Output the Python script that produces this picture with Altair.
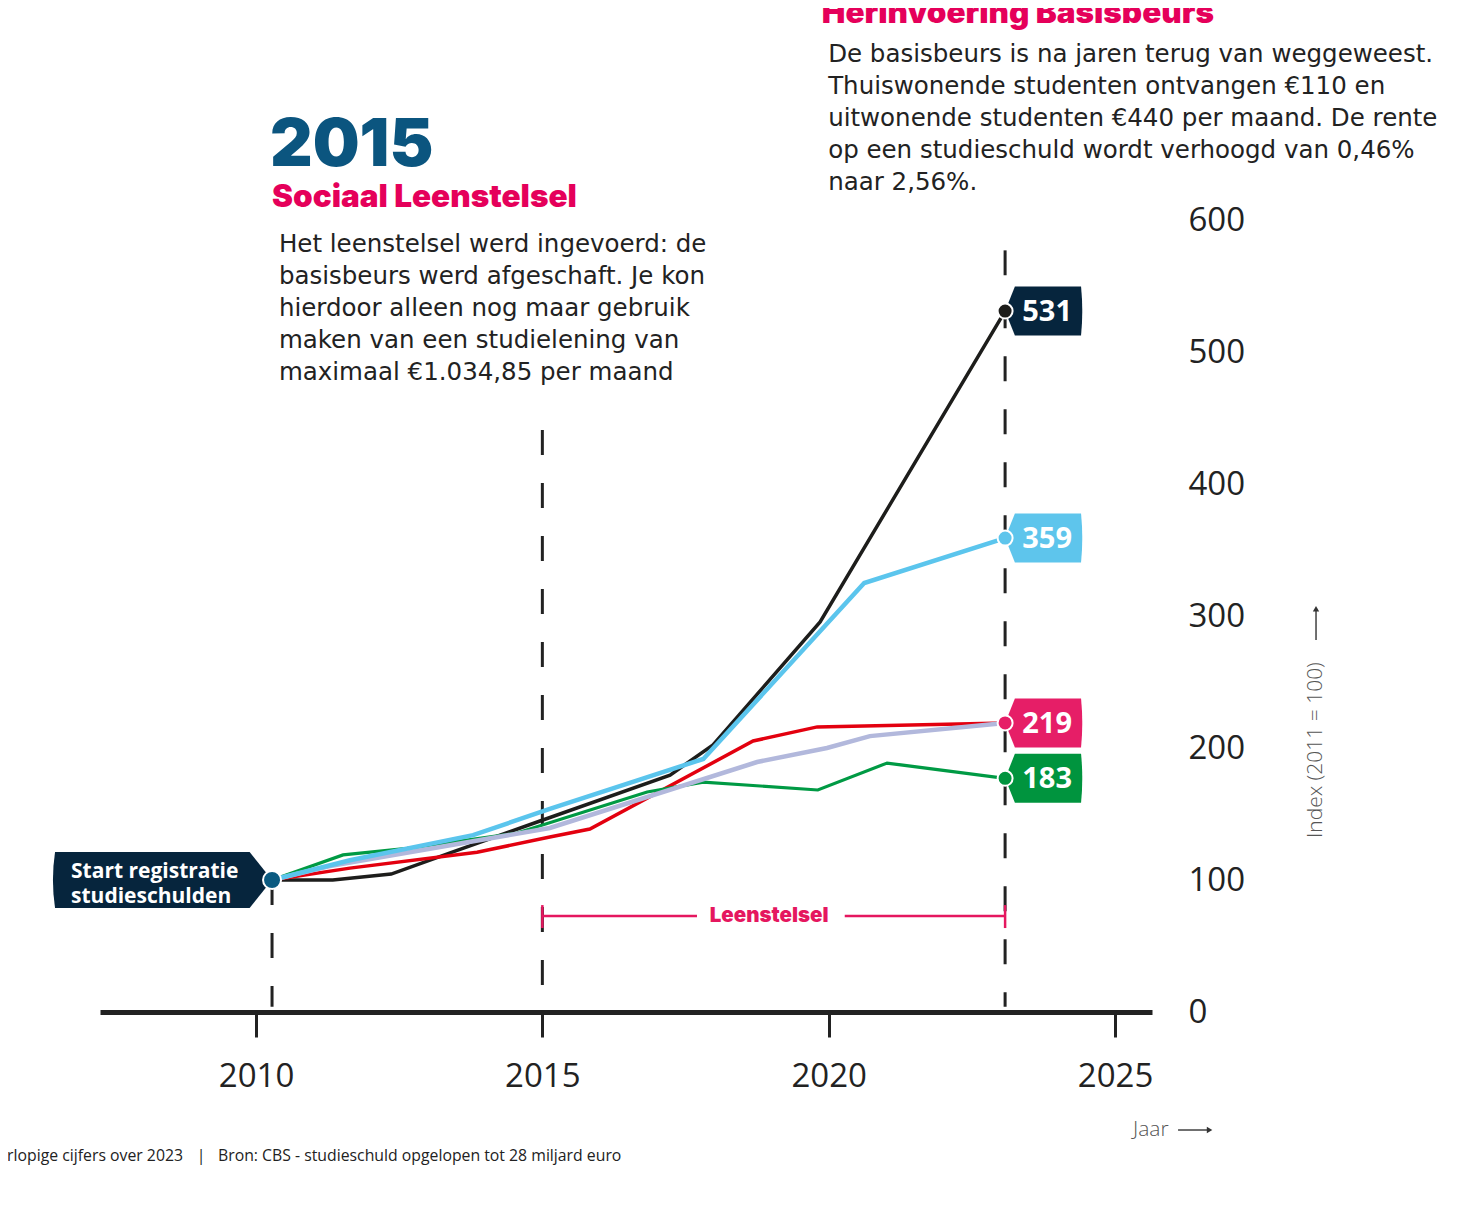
import altair as alt
import pandas as pd

# ---------------- data ----------------
zwart_jaar = [2010.28, 2011.34, 2012.36, 2013.39, 2014.96, 2017.23, 2017.98, 2019.85, 2023.08]
zwart_index = [100, 100, 104.5, 120.5, 144.7, 179.5, 202.3, 295.5, 531]

blauw_jaar = [2010.28, 2011.64, 2013.79, 2015.13, 2017.81, 2020.62, 2023.08]
blauw_index = [100, 115, 134, 153.8, 191.7, 325, 359]

rood_jaar = [2010.28, 2011.64, 2013.86, 2015.13, 2015.83, 2018.68, 2019.80, 2023.08]
rood_index = [100, 109, 121, 132.6, 138.6, 205.3, 216, 219]

groen_jaar = [2010.28, 2011.52, 2012.64, 2014.56, 2016.83, 2017.81, 2019.81, 2021.02, 2023.08]
groen_index = [100, 119, 124, 135.6, 166.7, 174.2, 168.2, 188.6, 177]

lila_jaar = [2010.28, 2011.29, 2015.13, 2018.75, 2019.97, 2020.72, 2023.08]
lila_index = [100, 110.6, 139.4, 189.4, 200, 209, 219]

eind_jaar = 2023.08
eind_waarden = [531, 359, 219, 177]          # positions of the end dots
eind_labels = ["531", "359", "219", "183"]   # printed values
eind_tagkleur = ["#06253d", "#5ec5ec", "#e61e67", "#00943e"]
eind_dotkleur = ["#1d1d1b", "#5ec5ec", "#e61e67", "#00943e"]

start_jaar = 2010.28
start_index = 100

x_ticks = [2010, 2015, 2020, 2025]
y_ticks = [0, 100, 200, 300, 400, 500, 600]

KOP = "Inter"
TEKST = "DejaVu Sans"

# ---------------- scales / encodings ----------------
xs = alt.Scale(domain=[2007.276, 2025.645], nice=False, zero=False)
ys = alt.Scale(domain=[0, 600], nice=False, zero=False)

X = alt.X("jaar:Q", scale=xs, title=None,
          axis=alt.Axis(values=x_ticks, format="d", grid=False, labelFontSize=33,
                        labelFont="Open Sans", labelColor="#222222", tickSize=25,
                        tickWidth=3, tickColor="#222222", domainWidth=5,
                        domainColor="#222222", labelPadding=23, labelFlush=False,
                        labelOverlap=False))
Y = alt.Y("index:Q", scale=ys, title=None,
          axis=alt.Axis(orient="right", values=y_ticks, grid=False, ticks=False,
                        tickSize=0, domain=False, labelFontSize=33,
                        labelFont="Open Sans", labelColor="#222222", labelAlign="left",
                        labelPadding=36, labelBaseline="middle", labelFlush=False,
                        labelOverlap=False))

layers = []

# dashed vertical guides
vl = pd.DataFrame({"jaar": [start_jaar, 2015.0, eind_jaar],
                   "index": [100, 441, 577], "index2": [4, 4, 4]})
layers.append(alt.Chart(vl).mark_rule(color="#222222", strokeWidth=3,
                                      strokeDash=[25, 28]).encode(
    x=X, y=Y, y2=alt.Y2("index2")))

# Leenstelsel bracket
br = pd.DataFrame({"jaar": [2015.0, 2020.28], "jaar2": [2017.70, eind_jaar],
                   "index": [72.7, 72.7]})
layers.append(alt.Chart(br).mark_rule(color="#e5175f", strokeWidth=2.5).encode(
    x=X, x2=alt.X2("jaar2"), y=Y))
caps = pd.DataFrame({"jaar": [2015.0, eind_jaar], "index": [81, 81], "index2": [63.6, 63.6]})
layers.append(alt.Chart(caps).mark_rule(color="#e5175f", strokeWidth=2.5).encode(
    x=X, y=Y, y2=alt.Y2("index2")))
layers.append(alt.Chart(pd.DataFrame({"jaar": [2018.96], "index": [72.7],
                                      "tekst": ["Leenstelsel"]})).mark_text(
    align="center", baseline="middle", font=KOP, fontWeight=900, fontSize=20.5,
    color="#e5175f").encode(x=X, y=Y, text="tekst:N"))

# lines
def lijn(jaren, waarden, kleur, dikte):
    df = pd.DataFrame({"jaar": jaren, "index": waarden})
    return alt.Chart(df).mark_line(color=kleur, strokeWidth=dikte,
                                   strokeJoin="miter").encode(x=X, y=Y)

layers.append(lijn(zwart_jaar, zwart_index, "#1d1d1b", 3.5))
layers.append(lijn(rood_jaar, rood_index, "#e3000f", 3.5))
layers.append(lijn(groen_jaar, groen_index, "#009a44", 3.2))
layers.append(lijn(lila_jaar, lila_index, "#b2b8dc", 4.5))
layers.append(lijn(blauw_jaar, blauw_index, "#5bc5ed", 4.5))

# end tags
tag_path = "M0,0 L0.4,-1 L3.1,-1 Q3.2,0 3.1,1 L0.4,1 Z"
tags = pd.DataFrame({"jaar": [eind_jaar] * 4, "index": eind_waarden,
                     "tekst": eind_labels, "tag": eind_tagkleur, "dot": eind_dotkleur})
layers.append(alt.Chart(tags).mark_point(shape=tag_path, filled=True, size=2401,
                                         opacity=1, strokeWidth=0).encode(
    x=X, y=Y, color=alt.Color("tag:N", scale=None)))
layers.append(alt.Chart(tags).mark_point(shape="circle", filled=True, size=225,
                                         opacity=1, stroke="white", strokeWidth=2).encode(
    x=X, y=Y, fill=alt.Fill("dot:N", scale=None)))
layers.append(alt.Chart(tags).mark_text(align="center", baseline="middle", dx=42, dy=1,
                                        font="Open Sans", fontWeight="bold", fontSize=29,
                                        color="white").encode(x=X, y=Y, text="tekst:N"))

# start tag
st = pd.DataFrame({"jaar": [start_jaar], "index": [start_index],
                   "tekst": ["Start registratie\nstudieschulden"]})
start_path = "M0,0 L-0.8,-1 L-7.75,-1 Q-7.9,0 -7.75,1 L-0.8,1 Z"
layers.append(alt.Chart(st).mark_point(shape=start_path, filled=True, size=3136,
                                       opacity=1, color="#06253d", strokeWidth=0).encode(x=X, y=Y))
layers.append(alt.Chart(st).mark_point(shape="circle", filled=True, size=324, opacity=1,
                                       fill="#0b5a80", stroke="white", strokeWidth=2).encode(x=X, y=Y))
layers.append(alt.Chart(st).mark_text(align="left", baseline="alphabetic", dx=-201, dy=-2,
                                      font="Open Sans", fontWeight="bold", fontSize=21,
                                      lineBreak="\n", lineHeight=25, color="white").encode(
    x=X, y=Y, text="tekst:N"))

# annotations
def tekst(jaar, index, t, **kw):
    df = pd.DataFrame({"jaar": [jaar], "index": [index], "tekst": [t]})
    return alt.Chart(df).mark_text(lineBreak="\n", **kw).encode(x=X, y=Y, text="tekst:N")

layers.append(tekst(2010.244, 640.9, "2015", align="left", baseline="alphabetic",
                    font=KOP, fontWeight=900, fontSize=66, color="#0b557f"))
layers.append(tekst(2010.28, 609.8, "Sociaal Leenstelsel", align="left", baseline="alphabetic",
                    font=KOP, fontWeight=900, fontSize=31.5, color="#e5005a"))
layers.append(tekst(2010.40, 576.0,
                    "Het leenstelsel werd ingevoerd: de\nbasisbeurs werd afgeschaft. Je kon\n"
                    "hierdoor alleen nog maar gebruik\nmaken van een studielening van\n"
                    "maximaal €1.034,85 per maand",
                    align="left", baseline="alphabetic", font=TEKST, fontSize=24.5,
                    lineHeight=32, color="#222222"))
layers.append(tekst(2019.88, 749.0, "Herinvoering Basisbeurs", align="left",
                    baseline="alphabetic", font=KOP, fontWeight=900, fontSize=31.5,
                    color="#e5005a"))
layers.append(tekst(2019.99, 720.0,
                    "De basisbeurs is na jaren terug van weggeweest.\n"
                    "Thuiswonende studenten ontvangen €110 en\n"
                    "uitwonende studenten €440 per maand. De rente\n"
                    "op een studieschuld wordt verhoogd van 0,46%\n"
                    "naar 2,56%.",
                    align="left", baseline="alphabetic", font=TEKST, fontSize=24.5,
                    lineHeight=32, color="#222222"))

# axis titles with thin arrows
layers.append(tekst(2028.509, 131.8, "Index (2011 = 100)", angle=270, align="left",
                    baseline="middle", font="Open Sans", fontWeight=300, fontSize=21,
                    color="#555555"))
pijl_op = pd.DataFrame({"jaar": [2028.509], "index": [281.8], "index2": [305.5]})
layers.append(alt.Chart(pijl_op).mark_rule(color="#333333", strokeWidth=1.4).encode(
    x=X, y=Y, y2=alt.Y2("index2")))
layers.append(alt.Chart(pd.DataFrame({"jaar": [2028.509], "index": [305.5]})).mark_point(
    shape="triangle-up", filled=True, size=40, opacity=1, color="#333333").encode(x=X, y=Y))

layers.append(tekst(2025.313, -89.4, "Jaar", align="left", baseline="middle",
                    font="Open Sans", fontWeight=300, fontSize=21, color="#555555"))
pijl_rechts = pd.DataFrame({"jaar": [2026.10], "jaar2": [2026.65], "index": [-89.4]})
layers.append(alt.Chart(pijl_rechts).mark_rule(color="#333333", strokeWidth=1.4).encode(
    x=X, x2=alt.X2("jaar2"), y=Y))
layers.append(alt.Chart(pd.DataFrame({"jaar": [2026.65], "index": [-89.4]})).mark_point(
    shape="triangle-right", filled=True, size=40, opacity=1, color="#333333").encode(x=X, y=Y))

# footnote
layers.append(tekst(2008.725, -109.1, "*Voorlopige cijfers over 2023", align="right",
                    baseline="middle", font="Open Sans", fontSize=15.8, color="#222222"))
layers.append(tekst(2009.04, -109.1, "|", align="center", baseline="middle",
                    font="Open Sans", fontSize=15.8, color="#222222"))
layers.append(tekst(2009.336, -109.1,
                    "Bron: CBS - studieschuld opgelopen tot 28 miljard euro",
                    align="left", baseline="middle", font="Open Sans", fontSize=15.8,
                    color="#222222"))

chart = alt.layer(*layers).properties(
    width=1052, height=792,
    autosize=alt.AutoSizeParams(type="none"),
    padding={"left": 92, "top": 212, "right": 298, "bottom": 188},
    background="white",
).configure_view(stroke=None)

chart.save("out.html", embed_options={"renderer": "svg", "actions": False})
